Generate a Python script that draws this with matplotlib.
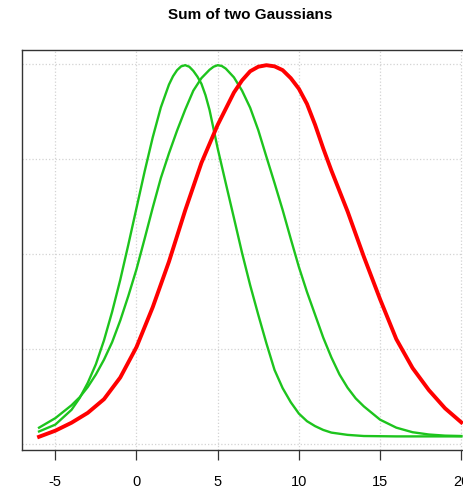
import matplotlib
matplotlib.use('Agg')
import matplotlib.pyplot as plt

# values
x_g1 = [-6, -5, -4, -3.5, -3, -2.5, -2, -1.5, -1, -0.5, 0, 0.5, 1, 1.5, 2, 2.25, 2.5,
        2.75, 3, 3.25, 3.5, 3.75, 4, 4.25, 4.5, 5, 5.5, 6, 6.5, 7, 7.5, 8, 8.5, 9,
        9.5, 10, 10.5, 11, 11.5, 12, 13, 14, 16, 18, 20]
y_g1 = [0.033, 0.051, 0.090, 0.121, 0.161, 0.210, 0.273, 0.348, 0.432, 0.525, 0.621,
        0.717, 0.807, 0.886, 0.946, 0.968, 0.984, 0.994, 0.997, 0.993, 0.982, 0.967,
        0.948, 0.918, 0.879, 0.778, 0.686, 0.595, 0.503, 0.418, 0.340, 0.265, 0.195,
        0.147, 0.110, 0.080, 0.060, 0.047, 0.037, 0.030, 0.024, 0.021, 0.020, 0.020,
        0.020]

x_g2 = [-6, -5, -4, -3.5, -3, -2.5, -2, -1.5, -1, -0.5, 0, 0.5, 1, 1.5, 2, 2.5, 3,
        3.5, 4, 4.5, 4.75, 5, 5.25, 5.5, 6, 6.5, 7, 7.5, 8, 8.5, 9, 9.5, 10, 10.5,
        11, 11.5, 12, 12.5, 13, 13.5, 14, 15, 16, 17, 18, 19, 20]
y_g2 = [0.043, 0.068, 0.102, 0.123, 0.150, 0.183, 0.222, 0.268, 0.325, 0.390, 0.460,
        0.540, 0.622, 0.700, 0.765, 0.825, 0.880, 0.930, 0.963, 0.985, 0.993, 0.997,
        0.995, 0.988, 0.965, 0.930, 0.885, 0.826, 0.756, 0.687, 0.616, 0.540, 0.466,
        0.400, 0.340, 0.280, 0.228, 0.183, 0.148, 0.120, 0.099, 0.064, 0.043, 0.031,
        0.025, 0.022, 0.021]

x_red = [-6, -5, -4, -3, -2, -1, 0, 1, 2, 3, 4, 5, 6, 6.5, 7, 7.5, 8, 8.5, 9, 9.5,
         10, 10.5, 11, 11.5, 12, 13, 14, 15, 16, 17, 18, 19, 20]
y_red = [0.019, 0.035, 0.056, 0.082, 0.118, 0.175, 0.255, 0.360, 0.480, 0.615, 0.740,
         0.840, 0.925, 0.957, 0.981, 0.993, 0.997, 0.994, 0.984, 0.963, 0.935, 0.895,
         0.840, 0.778, 0.720, 0.612, 0.493, 0.381, 0.276, 0.200, 0.142, 0.094, 0.057]

x_ticks = [-5, 0, 5, 10, 15, 20]
y_grid = [0, 0.25, 0.5, 0.75, 1.0]

plt.rcParams['font.family'] = ['Liberation Sans', 'DejaVu Sans']

fig = plt.figure(figsize=(4.64, 4.92), dpi=100)
ax = fig.add_axes([22 / 464, 42 / 492, 454.7 / 464, 400 / 492])

green = '#1DC41D'
ax.plot(x_g1, y_g1, color=green, lw=1.7, solid_joinstyle='round')
ax.plot(x_g2, y_g2, color=green, lw=1.7, solid_joinstyle='round')
ax.plot(x_red, y_red, color='#FF0000', lw=2.8, solid_joinstyle='round')

ax.set_xlim(-7.05, 20.95)
ax.set_ylim(-0.0158, 1.037)
ax.set_xticks(x_ticks)
ax.set_xticklabels([str(t) for t in x_ticks])
ax.set_yticks(y_grid)
ax.set_yticklabels([])
ax.tick_params(axis='y', length=0)
ax.tick_params(axis='x', length=7, width=0.9, color='#333333', pad=11,
               labelsize=10.5)
ax.grid(True, color='#d3d3d3', linestyle=':', linewidth=0.9)
ax.set_axisbelow(True)

for side in ['left', 'top', 'bottom']:
    ax.spines[side].set_color('#333333')
    ax.spines[side].set_linewidth(1.0)
ax.spines['right'].set_visible(False)

fig.text(250 / 464, 1 - 15 / 492, 'Sum of two Gaussians', ha='center', va='center',
         fontsize=11, fontweight='bold')

plt.savefig('out.png', dpi=100)
